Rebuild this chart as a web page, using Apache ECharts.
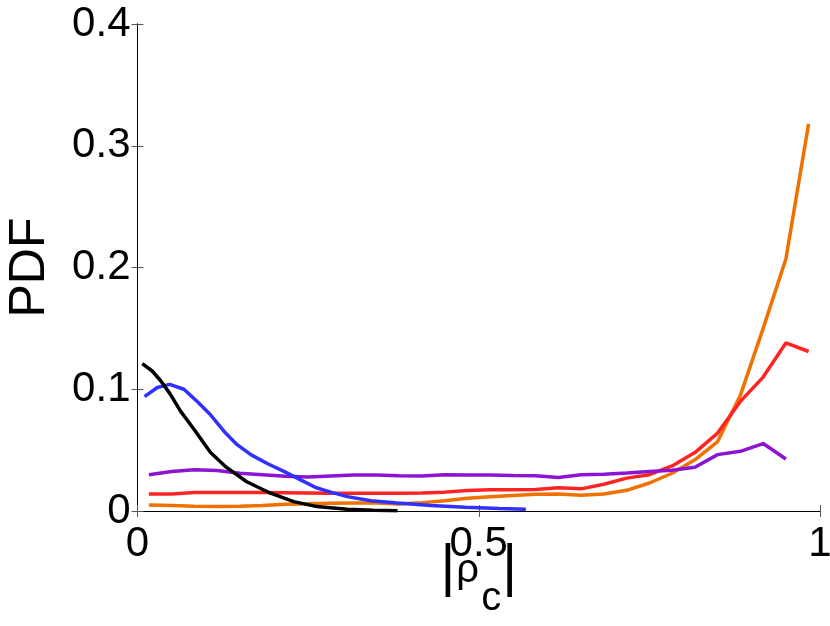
<!DOCTYPE html>
<html>
<head>
<meta charset="utf-8">
<script src="https://cdn.jsdelivr.net/npm/echarts@6/dist/echarts.min.js"></script>
<style>
html,body{margin:0;padding:0;background:#fff;}
#chart{width:830px;height:626px;}
</style>
</head>
<body>
<div id="chart"></div>
<script>
// ---- data ----
var xTickLabels = {0: '0', 0.5: '0.5', 1: '1'};
var yTickLabels = {0: '0', 0.1: '0.1', 0.2: '0.2', 0.3: '0.3', 0.4: '0.4'};

var blackX = [0.007, 0.0215, 0.034, 0.048, 0.063, 0.083, 0.107, 0.13, 0.16, 0.195, 0.229, 0.263, 0.307, 0.345, 0.381];
var blackY = [0.121, 0.115, 0.107, 0.096, 0.082, 0.067, 0.048, 0.036, 0.024, 0.0146, 0.0077, 0.0036, 0.0014, 0.0006, 0.0003];

var blueX = [0.0103, 0.029, 0.047, 0.068, 0.0875, 0.107, 0.129, 0.146, 0.166, 0.19, 0.2145, 0.239, 0.261, 0.283, 0.3075, 0.342, 0.381, 0.43, 0.48, 0.53, 0.569];
var blueY = [0.094, 0.1014, 0.104, 0.100, 0.090, 0.079, 0.064, 0.0545, 0.0463, 0.039, 0.0325, 0.0256, 0.0193, 0.0155, 0.0118, 0.0085, 0.0065, 0.0045, 0.003, 0.002, 0.0015];

var binX = [0.0167, 0.05, 0.0833, 0.1167, 0.15, 0.1833, 0.2167, 0.25, 0.2833, 0.3167,
            0.35, 0.3833, 0.4167, 0.45, 0.4833, 0.5167, 0.55, 0.5833, 0.6167, 0.65,
            0.6833, 0.7167, 0.75, 0.7833, 0.8167, 0.85, 0.8833, 0.9167, 0.95, 0.9833];

var purpleY = [0.0298, 0.0325, 0.0338, 0.0333, 0.031, 0.0298, 0.0285, 0.028, 0.0288, 0.0295,
               0.0296, 0.029, 0.0288, 0.0298, 0.0295, 0.0295, 0.0292, 0.029, 0.0275, 0.0298,
               0.0302, 0.0312, 0.0325, 0.0335, 0.036, 0.0463, 0.049, 0.0554, 0.0427];

var redY = [0.014, 0.014, 0.0152, 0.0152, 0.0152, 0.0152, 0.015, 0.0148, 0.0145, 0.0145,
            0.0145, 0.0145, 0.0148, 0.0155, 0.0168, 0.0175, 0.0175, 0.0176, 0.019, 0.0182,
            0.022, 0.027, 0.0298, 0.037, 0.048, 0.064, 0.09, 0.11, 0.138, 0.131];

var orangeY = [0.005, 0.0045, 0.004, 0.0036, 0.0038, 0.0045, 0.0055, 0.006, 0.0063, 0.0065,
               0.0066, 0.0058, 0.0068, 0.0085, 0.0105, 0.0118, 0.0128, 0.0137, 0.014, 0.013,
               0.014, 0.017, 0.023, 0.031, 0.042, 0.057, 0.095, 0.15, 0.207, 0.318];

function pairs(xs, ys) {
  var out = [];
  for (var i = 0; i < ys.length; i++) out.push([xs[i], ys[i]]);
  return out;
}

var chart = echarts.init(document.getElementById('chart'), null, {renderer: 'canvas'});
var FONT = 'Liberation Sans, Arial, Helvetica, sans-serif';

function lineSeries(name, data, color) {
  return {
    name: name, type: 'line', data: data, showSymbol: false, symbol: 'none',
    smooth: false, animation: false,
    lineStyle: {color: color, width: 3.5}, xAxisIndex: 0, yAxisIndex: 0
  };
}

var option = {
  animation: false,
  backgroundColor: '#ffffff',
  grid: {left: 137.5, right: 10, top: 24, bottom: 115, containLabel: false, outerBoundsMode: 'none'},
  xAxis: [{
    type: 'value', min: 0, max: 1, interval: 0.5, position: 'bottom',
    axisLine: {show: true, lineStyle: {color: '#000', width: 1}},
    axisTick: {show: true, inside: true, length: 6, lineStyle: {color: '#555'}},
    splitLine: {show: false},
    axisLabel: {
      margin: 12, fontSize: 42, color: '#000', fontFamily: FONT,
      formatter: function (v) { return xTickLabels[v] !== undefined ? xTickLabels[v] : ''; }
    },
    name: '{bar||}{rho|ρ}{sub|c}{bar||}',
    nameLocation: 'middle', nameGap: 19, nameMoveOverlap: false,
    nameTextStyle: {
      fontFamily: FONT, color: '#000', lineHeight: 70,
      rich: {
        bar: {fontSize: 57, fontFamily: FONT, color: '#000', verticalAlign: 'top', lineHeight: 70, padding: [11, 0, 0, 0]},
        rho: {fontSize: 40, fontFamily: FONT, color: '#000', verticalAlign: 'top', lineHeight: 70, padding: [21, 1, 0, 1]},
        sub: {fontSize: 40, fontFamily: FONT, color: '#000', verticalAlign: 'top', lineHeight: 70, padding: [49, 1, 0, 1]}
      }
    }
  }, {
    type: 'value', min: 0, max: 1, interval: 0.5, position: 'top',
    axisLine: {show: true, lineStyle: {color: '#000', width: 1}},
    axisTick: {show: true, inside: true, length: 6, lineStyle: {color: '#555'}},
    splitLine: {show: false}, axisLabel: {show: false}
  }],
  yAxis: [{
    type: 'value', min: 0, max: 0.4, interval: 0.1, position: 'left',
    axisLine: {show: true, lineStyle: {color: '#000', width: 1}},
    axisTick: {show: true, inside: true, length: 6, lineStyle: {color: '#555'}},
    splitLine: {show: false},
    axisLabel: {
      margin: 7, fontSize: 42, color: '#000', fontFamily: FONT,
      formatter: function (v) {
        var k = Math.round(v * 10) / 10;
        return yTickLabels[k] !== undefined ? yTickLabels[k] : '';
      }
    },
    name: 'PDF', nameLocation: 'middle', nameGap: 82, nameRotate: 90, nameMoveOverlap: false,
    nameTextStyle: {fontSize: 50, color: '#000', fontFamily: FONT}
  }, {
    type: 'value', min: 0, max: 0.4, interval: 0.1, position: 'right',
    axisLine: {show: true, lineStyle: {color: '#000', width: 1}},
    axisTick: {show: true, inside: true, length: 6, lineStyle: {color: '#555'}},
    splitLine: {show: false}, axisLabel: {show: false}
  }],
  series: [
    lineSeries('orange', pairs(binX, orangeY), '#f07000'),
    lineSeries('red', pairs(binX, redY), '#ff2424'),
    lineSeries('purple', pairs(binX, purpleY), '#8c14d2'),
    lineSeries('blue', pairs(blueX, blueY), '#3030ff'),
    lineSeries('black', pairs(blackX, blackY), '#000000')
  ]
};
chart.setOption(option);
</script>
</body>
</html>
